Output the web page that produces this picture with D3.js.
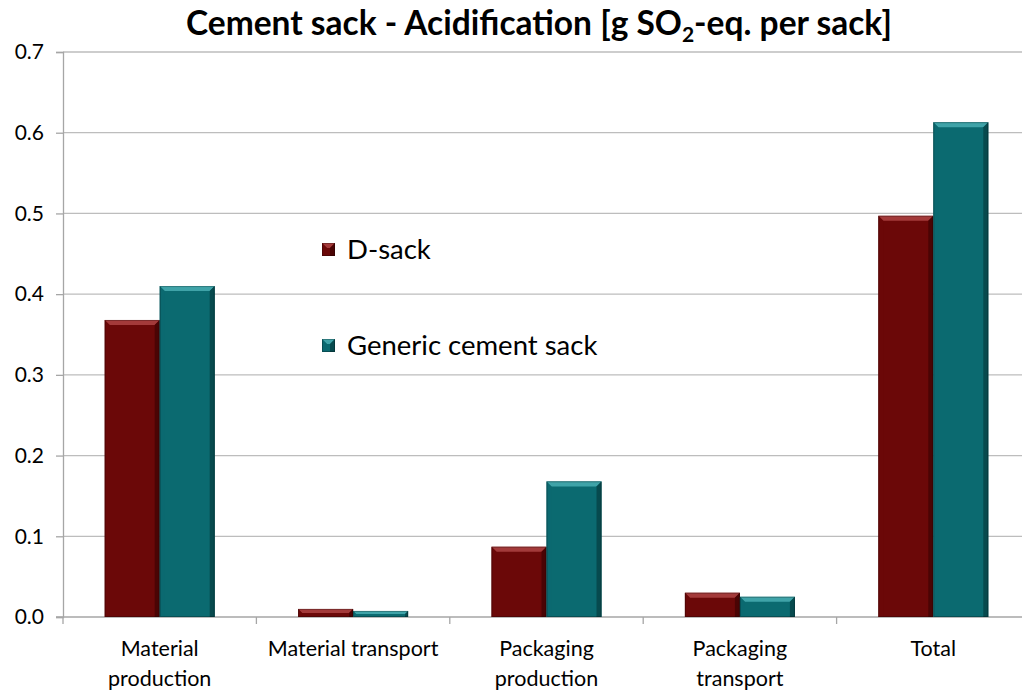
<!DOCTYPE html>
<html>
<head>
<meta charset="utf-8">
<script src="https://cdn.jsdelivr.net/npm/d3@7"></script>
<style>
  body { margin: 0; background: #fff; overflow: hidden; }
  text { font-family: Lato, "Open Sans", sans-serif; }
</style>
</head>
<body>
<div id="chart"></div>
<script>
var w = 1022;
var h = 693;

// chart data
var categories = [["Material", "production"], ["Material transport"], ["Packaging", "production"], ["Packaging", "transport"], ["Total"]];
var seriesNames = ["D-sack", "Generic cement sack"];
var dSack = [0.368, 0.010, 0.087, 0.030, 0.497];
var generic = [0.410, 0.0075, 0.168, 0.025, 0.613];
var yTicks = [0, 0.1, 0.2, 0.3, 0.4, 0.5, 0.6, 0.7];

var colors = ["#6b0808", "#0b6a70"];
var lightColors = ["#a33a3a", "#3fa3a8"];
var darkColors = ["#4a0404", "#074a4e"];

// plot area runs slightly past the right edge of the picture
var margin = {top: 52, right: -8, bottom: 76, left: 63};

var svg = d3.select("#chart").append("svg")
  .attr("width", w)
  .attr("height", h);

var x = d3.scaleBand()
  .domain(d3.range(categories.length))
  .range([margin.left, w - margin.right])
  .paddingInner(0)
  .paddingOuter(0);

var y = d3.scaleLinear()
  .domain([0, 0.7])
  .range([h - margin.bottom, margin.top]);

// gridlines
svg.selectAll(".grid")
  .data(yTicks.slice(1))
  .enter()
  .append("line")
  .attr("x1", margin.left)
  .attr("x2", w - margin.right)
  .attr("y1", function(d) { return y(d); })
  .attr("y2", function(d) { return y(d); })
  .attr("stroke", "#bdbdbd")
  .attr("stroke-width", 1.3);

// y axis
var yAxis = d3.axisLeft(y)
  .tickValues(yTicks)
  .tickFormat(d3.format(".1f"))
  .tickSize(7)
  .tickPadding(12);

var yg = svg.append("g")
  .attr("transform", "translate(" + margin.left + ",0)")
  .call(yAxis);
yg.select(".domain").attr("stroke", "#a6a6a6").attr("stroke-width", 1.3);
yg.selectAll(".tick line").attr("stroke", "#a6a6a6").attr("stroke-width", 1.3);
yg.selectAll(".tick text")
  .attr("font-size", 21)
  .attr("fill", "#000")
  .style("font-family", "Lato, 'Open Sans', sans-serif");

// x axis line + category ticks
svg.append("line")
  .attr("x1", margin.left - 7)
  .attr("x2", w - margin.right)
  .attr("y1", y(0))
  .attr("y2", y(0))
  .attr("stroke", "#a6a6a6")
  .attr("stroke-width", 1.3);

svg.selectAll(".xtick")
  .data(d3.range(categories.length + 1))
  .enter()
  .append("line")
  .attr("x1", function(d) { return margin.left + d * x.bandwidth(); })
  .attr("x2", function(d) { return margin.left + d * x.bandwidth(); })
  .attr("y1", y(0))
  .attr("y2", y(0) + 7)
  .attr("stroke", "#a6a6a6")
  .attr("stroke-width", 1.3);

// x labels
var xl = svg.selectAll(".xlabel")
  .data(categories)
  .enter()
  .append("text")
  .attr("text-anchor", "middle")
  .attr("font-size", 21.5)
  .attr("fill", "#000");
xl.each(function(lines, i) {
  var t = d3.select(this);
  lines.forEach(function(line, j) {
    t.append("tspan")
      .attr("x", x(i) + x.bandwidth() / 2)
      .attr("y", 656 + j * 30)
      .text(line);
  });
});

// bars with a bevel look
var barW = 55;
var bev = 5;
var seriesData = [dSack, generic];

function drawBar(g, x0, y0, bw, bh, s) {
  var b = Math.min(bev, bh / 2);
  g.append("rect")
    .attr("x", x0).attr("y", y0)
    .attr("width", bw).attr("height", bh)
    .attr("fill", colors[s]);
  // top bevel
  g.append("path")
    .attr("d", "M" + x0 + "," + y0 + "L" + (x0 + bw) + "," + y0 + "L" + (x0 + bw - b) + "," + (y0 + b) + "L" + (x0 + b) + "," + (y0 + b) + "Z")
    .attr("fill", lightColors[s]);
  // left bevel
  g.append("path")
    .attr("d", "M" + x0 + "," + y0 + "L" + (x0 + b) + "," + (y0 + b) + "L" + (x0 + b) + "," + (y0 + bh) + "L" + x0 + "," + (y0 + bh) + "Z")
    .attr("fill", colors[s])
    .attr("opacity", 0.7);
  // right bevel
  g.append("path")
    .attr("d", "M" + (x0 + bw) + "," + y0 + "L" + (x0 + bw - b) + "," + (y0 + b) + "L" + (x0 + bw - b) + "," + (y0 + bh) + "L" + (x0 + bw) + "," + (y0 + bh) + "Z")
    .attr("fill", darkColors[s]);
  g.append("rect")
    .attr("x", x0 + 0.5).attr("y", y0 + 0.5)
    .attr("width", bw - 1).attr("height", Math.max(bh - 1, 0))
    .attr("fill", "none")
    .attr("stroke", "rgba(0,0,0,0.25)")
    .attr("stroke-width", 1);
}

var barsG = svg.append("g");
categories.forEach(function(c, i) {
  var cx = x(i) + x.bandwidth() / 2;
  seriesData.forEach(function(vals, s) {
    var x0 = cx - barW + s * barW;
    var y0 = y(vals[i]);
    drawBar(barsG.append("g"), x0, y0, barW, y(0) - y0, s);
  });
});

// legend
var legend = svg.append("g");
seriesNames.forEach(function(name, s) {
  var ly = 250 + s * 96;
  var lg = legend.append("g");
  drawBar(lg, 322, ly - 7, 13, 13, s);
  lg.append("text")
    .attr("x", 347)
    .attr("y", ly + 9)
    .attr("font-size", 27.5)
    .attr("fill", "#000")
    .text(name);
});

// title
var title = svg.append("text")
  .attr("x", 539)
  .attr("y", 35)
  .attr("text-anchor", "middle")
  .attr("font-size", 33.5)
  .attr("font-weight", "bold")
  .attr("fill", "#000");
title.append("tspan").text("Cement sack - Acidification [g SO");
title.append("tspan").attr("font-size", 21).attr("dy", 7).text("2");
title.append("tspan").attr("dy", -7).text("-eq. per sack]");
</script>
</body>
</html>
